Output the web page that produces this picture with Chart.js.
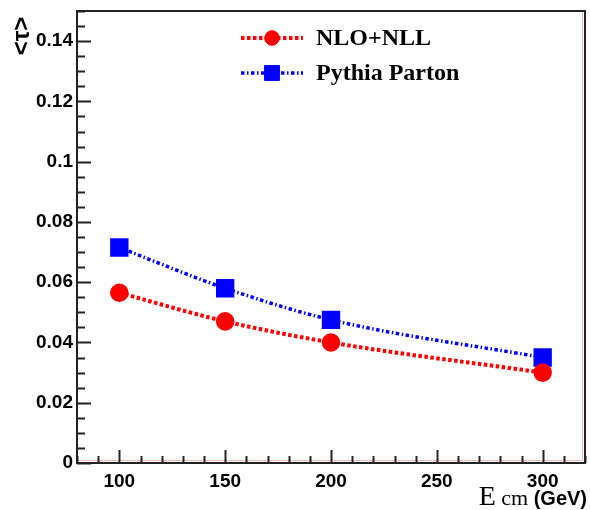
<!DOCTYPE html>
<html>
<head>
<meta charset="utf-8">
<script src="https://cdn.jsdelivr.net/npm/chart.js@4"></script>
<style>
  html, body { margin: 0; padding: 0; background: #fff; }
  #wrap { width: 590px; height: 510px; }
</style>
</head>
<body>
<div id="wrap"><canvas id="tauChart"></canvas></div>
<script>
// mean tau vs. centre-of-mass energy
const energies = [100, 150, 200, 300];
const nloNll = [0.0565, 0.047, 0.040, 0.030];
const pythiaParton = [0.0715, 0.058, 0.0475, 0.035];
const xTickLabels = [100, 150, 200, 250, 300];
const yTickLabels = ['0', '0.02', '0.04', '0.06', '0.08', '0.1', '0.12', '0.14'];

const toPoints = vals => vals.map((v, i) => ({ x: energies[i], y: v }));

// y label for a tick value (labels every 0.02)
function yLabelFor(v) {
    const k = Math.round(v * 1000);
    if (k % 20 !== 0) return '';
    return yTickLabels[k / 20] || '';
}

// ticks drawn inside the frame, plus the frame itself
const insideTicks = {
    id: 'insideTicks',
    afterDraw(chart) {
        const { ctx, chartArea: a, scales: { x, y } } = chart;
        ctx.save();
        // faint pink edge along right and bottom
        ctx.strokeStyle = '#f3b9b9';
        ctx.lineWidth = 1;
        ctx.beginPath();
        ctx.moveTo(a.right - 2.5, a.top + 1);
        ctx.lineTo(a.right - 2.5, a.bottom - 2.5);
        ctx.lineTo(a.left + 1, a.bottom - 2.5);
        ctx.stroke();

        ctx.strokeStyle = '#222';
        ctx.lineWidth = 2;
        ctx.beginPath();
        x.ticks.forEach(t => {
            const px = Math.round(x.getPixelForValue(t.value)) + 0.5;
            const len = xTickLabels.includes(t.value) ? 13 : 7;
            ctx.moveTo(px, a.bottom);
            ctx.lineTo(px, a.bottom - len);
        });
        y.ticks.forEach(t => {
            const py = Math.round(y.getPixelForValue(t.value)) + 0.5;
            const len = yLabelFor(t.value) ? 14 : 8;
            ctx.moveTo(a.left, py);
            ctx.lineTo(a.left + len, py);
        });
        ctx.stroke();
        ctx.strokeRect(a.left, a.top, a.right - a.left, a.bottom - a.top);
        ctx.restore();
    }
};

// axis titles with mixed fonts
const axisTitles = {
    id: 'axisTitles',
    afterDraw(chart) {
        const ctx = chart.ctx;
        ctx.save();
        ctx.fillStyle = '#000';
        // y title, rotated
        ctx.translate(22, 36);
        ctx.rotate(-Math.PI / 2);
        ctx.font = 'bold 24px "Liberation Sans", Arial, sans-serif';
        ctx.textAlign = 'center';
        ctx.textBaseline = 'middle';
        ctx.fillText('<τ>', 0, 0);
        ctx.restore();

        // x title: E cm (GeV), right aligned
        ctx.save();
        ctx.fillStyle = '#000';
        ctx.textBaseline = 'alphabetic';
        const parts = [
            { t: 'E', f: '28px "Liberation Serif", "Times New Roman", serif' },
            { t: ' cm ', f: '22px "Liberation Serif", "Times New Roman", serif' },
            { t: '(GeV)', f: 'bold 20px "Liberation Sans", Arial, sans-serif' }
        ];
        let total = 0;
        parts.forEach(p => { ctx.font = p.f; p.w = ctx.measureText(p.t).width; total += p.w; });
        let cx = 587 - total;
        parts.forEach(p => {
            ctx.font = p.f;
            ctx.fillText(p.t, cx, 505);
            cx += p.w;
        });
        ctx.restore();
    }
};

// legend inside the plot, using each dataset's own style
const innerLegend = {
    id: 'innerLegend',
    afterDraw(chart) {
        const ctx = chart.ctx;
        const rows = [38, 73];
        chart.data.datasets.forEach((ds, i) => {
            const yy = rows[i];
            ctx.save();
            ctx.strokeStyle = ds.borderColor;
            ctx.lineWidth = ds.borderWidth;
            ctx.setLineDash(ds.borderDash);
            ctx.beginPath();
            ctx.moveTo(241, yy);
            ctx.lineTo(303, yy);
            ctx.stroke();
            ctx.setLineDash([]);
            ctx.fillStyle = ds.pointBackgroundColor;
            ctx.strokeStyle = ds.pointBackgroundColor;
            ctx.lineWidth = 1;
            Chart.helpers.drawPoint(ctx, { pointStyle: ds.pointStyle, radius: ds.pointRadius, borderWidth: 1 }, 272, yy);
            ctx.fillStyle = '#000';
            ctx.font = 'bold 24px "Liberation Serif", "Times New Roman", serif';
            ctx.textBaseline = 'middle';
            ctx.fillText(ds.label, 316, yy + 1);
            ctx.restore();
        });
    }
};

new Chart(document.getElementById('tauChart'), {
    type: 'line',
    data: {
        datasets: [
            {
                label: 'NLO+NLL',
                data: toPoints(nloNll),
                borderColor: '#ff0000',
                borderWidth: 4,
                borderDash: [3.5, 2.5],
                pointStyle: 'circle',
                pointRadius: 7.3,
                pointBackgroundColor: '#ff0000',
                pointBorderColor: '#ff0000',
                cubicInterpolationMode: 'monotone'
            },
            {
                label: 'Pythia Parton',
                data: toPoints(pythiaParton),
                borderColor: '#0000ff',
                borderWidth: 3.5,
                borderDash: [3.5, 2.5, 1.5, 2.5],
                pointStyle: 'rect',
                pointRadius: 10.5,
                pointBackgroundColor: '#0000ff',
                pointBorderColor: '#0000ff',
                cubicInterpolationMode: 'monotone'
            }
        ]
    },
    options: {
        responsive: true,
        maintainAspectRatio: false,
        animation: false,
        layout: { autoPadding: false, padding: { top: 11, right: 5, left: 0, bottom: 0 } },
        plugins: {
            legend: { display: false },
            tooltip: { enabled: false }
        },
        scales: {
            x: {
                type: 'linear',
                min: 80,
                max: 320,
                afterBuildTicks: s => {
                    const t = [];
                    for (let v = 80; v <= 320; v += 10) t.push({ value: v });
                    s.ticks = t;
                },
                afterFit: s => {
                    s.height = 47;
                    s.paddingLeft = 0;
                    s.paddingRight = 0;
                },
                grid: { display: false, drawTicks: false },
                border: { display: false },
                ticks: {
                    autoSkip: false,
                    maxRotation: 0,
                    padding: 7,
                    color: '#000',
                    font: { family: '"Liberation Sans", Arial, sans-serif', size: 19, weight: 'bold' },
                    callback: v => xTickLabels.includes(v) ? String(v) : ''
                }
            },
            y: {
                min: 0,
                max: 0.15,
                afterBuildTicks: s => {
                    const t = [];
                    for (let k = 0; k <= 30; k++) t.push({ value: k * 0.005 });
                    s.ticks = t;
                },
                afterFit: s => {
                    s.width = 77;
                    s.paddingTop = 0;
                    s.paddingBottom = 0;
                },
                grid: { display: false, drawTicks: false },
                border: { display: false },
                ticks: {
                    autoSkip: false,
                    padding: 4,
                    color: '#000',
                    font: { family: '"Liberation Sans", Arial, sans-serif', size: 19, weight: 'bold' },
                    callback: v => yLabelFor(v)
                }
            }
        }
    },
    plugins: [insideTicks, axisTitles, innerLegend]
});
</script>
</body>
</html>
